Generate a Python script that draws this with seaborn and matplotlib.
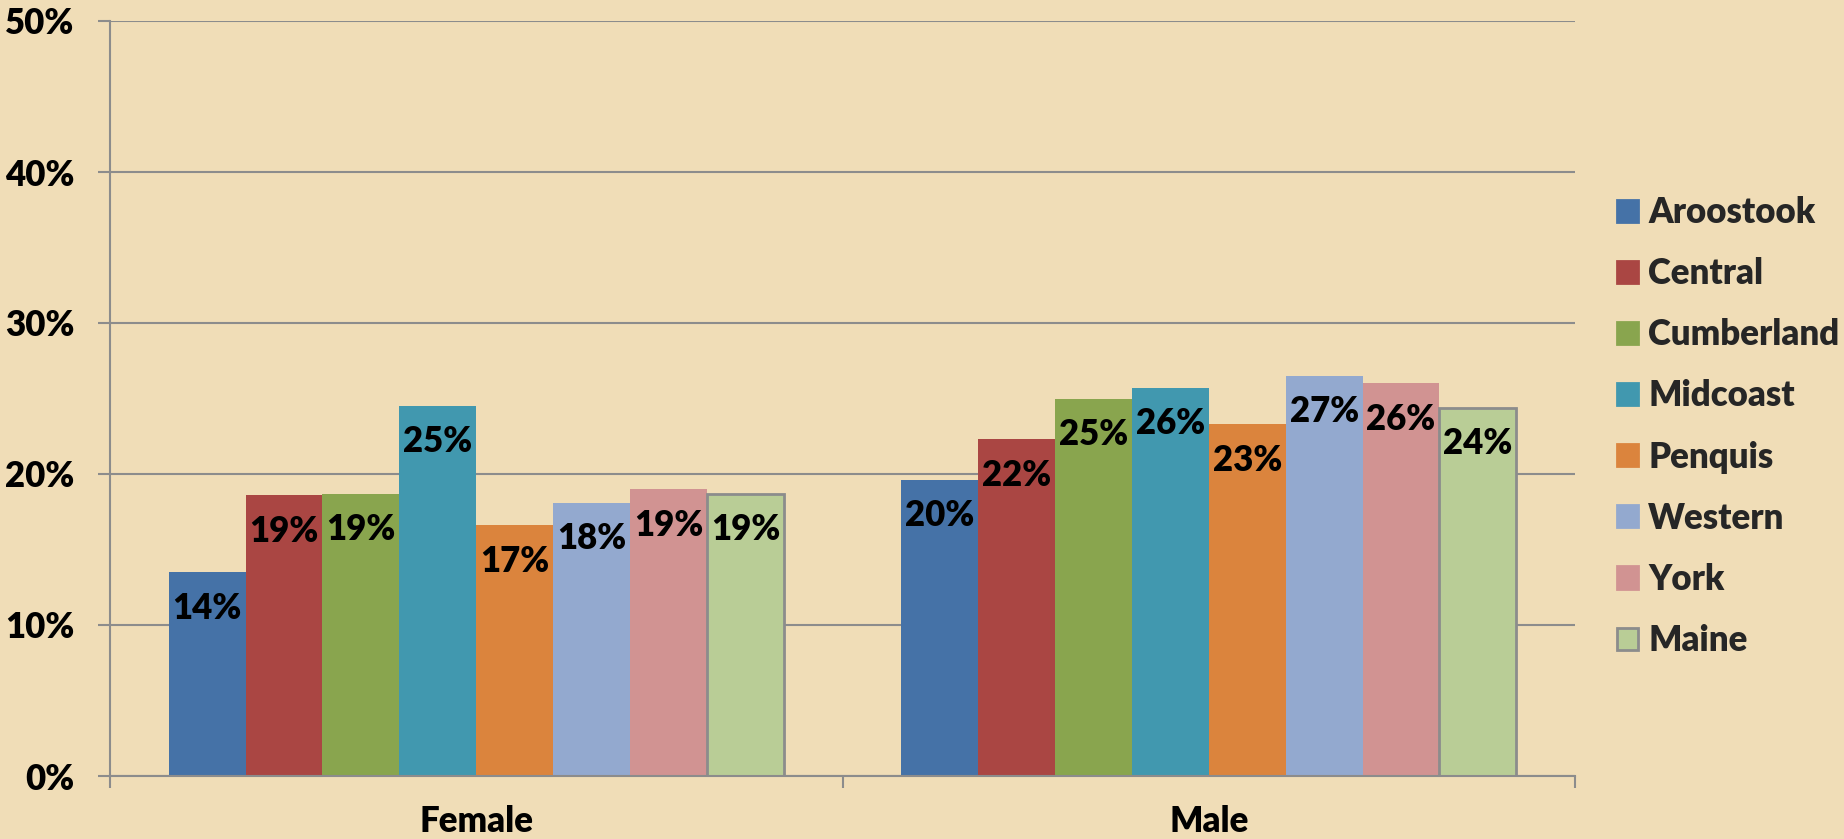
import seaborn as sns
import pandas as pd
import numpy as np
import matplotlib.pyplot as plt
from matplotlib.ticker import FixedLocator, FuncFormatter

groups = ["Female", "Male"]
regions = ["Aroostook", "Central", "Cumberland", "Midcoast", "Penquis", "Western", "York", "Maine"]
female = [13.5, 18.6, 18.7, 24.5, 16.6, 18.1, 19.0, 18.7]
male = [19.6, 22.3, 25.0, 25.7, 23.3, 26.5, 26.0, 24.4]
female_labels = ["14%", "19%", "19%", "25%", "17%", "18%", "19%", "19%"]
male_labels = ["20%", "22%", "25%", "26%", "23%", "27%", "26%", "24%"]
colors = ["#4572A7", "#AA4643", "#89A54E", "#4198AF", "#DB843D", "#93A9CF", "#D19392", "#B9CD96"]

df = pd.DataFrame({
    "group": ["Female"] * len(regions) + ["Male"] * len(regions),
    "region": regions * 2,
    "value": female + male,
})

bg = "#F0DDB7"
FS = 25
WT = "heavy"
sns.set_theme(style="white")
plt.rcParams['font.family'] = ['Lato', 'DejaVu Sans']

fig = plt.figure(figsize=(18.44, 8.39), dpi=100, facecolor=bg)
W, H = 1844, 839
ax = fig.add_axes([110 / W, 1 - 776 / H, (1575 - 110) / W, (776 - 21) / H])
ax.set_facecolor("none")

sns.barplot(data=df, x="group", y="value", hue="region", hue_order=regions,
            palette=colors, saturation=1, width=0.84, ax=ax, legend=False,
            edgecolor="none", linewidth=0)

ax.set_ylim(0, 50)
ax.set_xlim(-0.5, 1.5)
ax.set_xlabel("")
ax.set_ylabel("")

grid_c = "#8C8C8C"
ax.yaxis.set_major_locator(FixedLocator([0, 10, 20, 30, 40, 50]))
ax.yaxis.set_major_formatter(FuncFormatter(lambda v, p: f"{v:.0f}%"))
ax.yaxis.grid(True, color=grid_c, lw=1.5)
ax.set_axisbelow(True)
for s in ["top", "right"]:
    ax.spines[s].set_visible(False)
for s in ["left", "bottom"]:
    ax.spines[s].set_color(grid_c)
    ax.spines[s].set_linewidth(1.5)

ax.tick_params(axis="y", length=8.6, width=1.5, color=grid_c, pad=17, labelsize=FS, labelcolor="black", left=True)
ax.set_xticks([0, 1])
ax.set_xticklabels(groups)
ax.xaxis.set_minor_locator(FixedLocator([-0.5, 0.5, 1.5]))
ax.tick_params(axis="x", which="major", length=0, pad=21, labelsize=FS, labelcolor="black")
ax.tick_params(axis="x", which="minor", length=8.6, width=1.5, color=grid_c, bottom=True)
for t in ax.get_xticklabels() + ax.get_yticklabels():
    t.set_fontweight(WT)

# Maine bars carry a grey outline
maine = ax.containers[-1]
for p in maine:
    p.set_edgecolor("#8C8C8C")
    p.set_linewidth(2)

for i, cont in enumerate(ax.containers):
    labs = [female_labels[i], male_labels[i]]
    for p, lab in zip(cont, labs):
        ax.annotate(lab, xy=(p.get_x() + p.get_width() / 2, p.get_height()),
                    xytext=(0, -14), textcoords="offset points",
                    ha="center", va="top", fontsize=FS, fontweight=WT, color="black")

handles = [plt.Rectangle((0, 0), 1, 1, facecolor=c, edgecolor=("#8C8C8C" if r == "Maine" else c), lw=2)
           for r, c in zip(regions, colors)]
leg = fig.legend(handles, regions, loc="upper left", bbox_to_anchor=(1617 / W, 1 - 196 / H),
                 frameon=False, fontsize=FS, handlelength=0.6, handleheight=0.6,
                 handletextpad=0.3, labelspacing=0.81, borderpad=0, borderaxespad=0)
for t in leg.get_texts():
    t.set_fontweight(WT)

fig.savefig("out.png", dpi=100, facecolor=bg)
